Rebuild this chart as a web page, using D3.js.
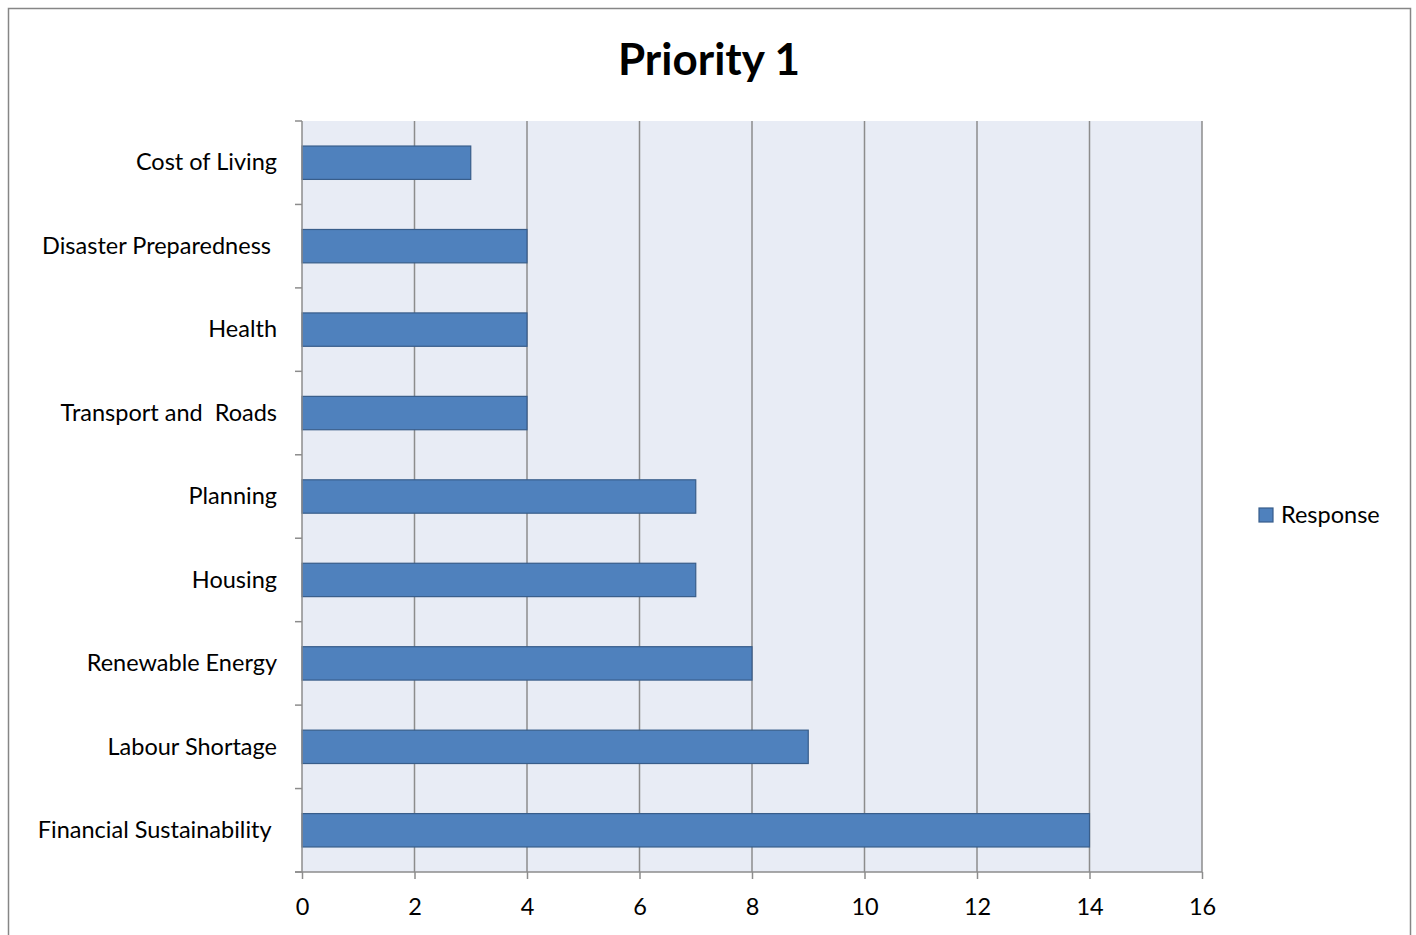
<!DOCTYPE html>
<html><head><meta charset="utf-8">
<script src="https://cdn.jsdelivr.net/npm/d3@7"></script>
<style>body{margin:0;background:#fff}svg{display:block}text{font-family:Lato,"Open Sans",sans-serif;fill:#000}</style>
</head><body><svg id="c" width="1416" height="935"></svg>
<script>
const categories = ["Cost of Living","Disaster Preparedness ","Health","Transport and  Roads","Planning","Housing","Renewable Energy","Labour Shortage","Financial Sustainability "];
const values = [3,4,4,4,7,7,8,9,14];
const xTicks = [0,2,4,6,8,10,12,14,16];
const seriesName = "Response";
const title = "Priority 1";

const svg = d3.select("#c");
svg.append("rect").attr("x",8.5).attr("y",8.5).attr("width",1402).attr("height",940).attr("fill","#fff").attr("stroke","#868686").attr("stroke-width",1.5);

const L=302,R=1202,T=121,B=872;
const FS=23.5;
const x = d3.scaleLinear().domain([0,16]).range([L,R]);
const y = d3.scaleBand().domain(categories).range([T,B]).paddingInner(0.6).paddingOuter(0.3);
const yb = d3.scaleBand().domain(categories).range([T,B]);

svg.append("rect").attr("x",L).attr("y",T).attr("width",R-L).attr("height",B-T).attr("fill","#E8ECF5");
svg.append("g").selectAll("line").data(xTicks.slice(1)).join("line")
  .attr("x1",d=>x(d)).attr("x2",d=>x(d)).attr("y1",T).attr("y2",B)
  .attr("stroke","#8C8C8C").attr("stroke-width",1.5);

svg.append("g").selectAll("rect").data(values).join("rect")
  .attr("x",x(0)).attr("y",(d,i)=>y(categories[i]))
  .attr("width",d=>x(d)-x(0)).attr("height",y.bandwidth())
  .attr("fill","#4F81BD").attr("stroke","#385D8A").attr("stroke-width",1.2);

const xa = svg.append("g").attr("transform",`translate(0,${B})`)
  .call(d3.axisBottom(x).tickValues(xTicks).tickSize(7).tickPadding(19).tickFormat(d3.format("d")));
xa.select(".domain").attr("stroke","#8C8C8C").attr("stroke-width",1.5).attr("d",`M${L-7},0H${R}`);
xa.selectAll(".tick line").attr("stroke","#8C8C8C").attr("stroke-width",1.5);
xa.selectAll("text").attr("font-size",FS).attr("font-family","Lato,'Open Sans',sans-serif").attr("fill","#000");

const ya = svg.append("g").attr("transform",`translate(${L},0)`);
ya.append("line").attr("x1",0).attr("x2",0).attr("y1",T).attr("y2",B).attr("stroke","#8C8C8C").attr("stroke-width",1.5);
const bounds = categories.map(c=>yb(c)).concat([B]);
ya.selectAll(".yt").data(bounds).join("line").attr("class","yt")
  .attr("x1",-7).attr("x2",0).attr("y1",d=>d).attr("y2",d=>d).attr("stroke","#8C8C8C").attr("stroke-width",1.5);
ya.selectAll(".yl").data(categories).join("text").attr("class","yl")
  .attr("x",-25).attr("y",d=>yb(d)+yb.bandwidth()/2).attr("dy","0.33em")
  .attr("text-anchor","end").attr("font-size",FS).style("white-space","pre").text(d=>d);

svg.append("text").attr("x",709).attr("y",75).attr("text-anchor","middle")
  .attr("font-size",44).attr("font-weight","bold").text(title);

svg.append("rect").attr("x",1259).attr("y",508).attr("width",14).attr("height",14)
  .attr("fill","#4F81BD").attr("stroke","#385D8A").attr("stroke-width",1.2);
svg.append("text").attr("x",1281).attr("y",515).attr("dy","0.35em").attr("font-size",FS).text(seriesName);
</script></body></html>
